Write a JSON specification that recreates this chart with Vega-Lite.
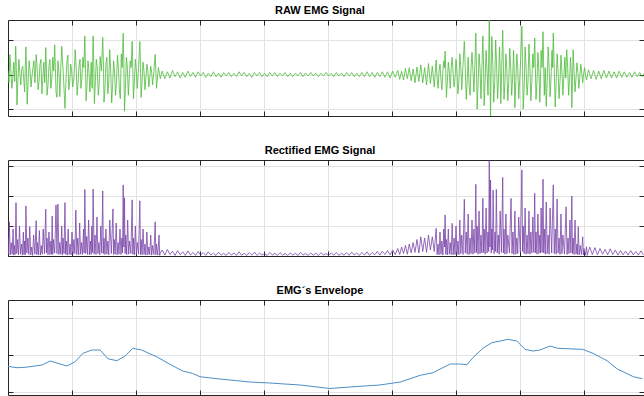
{
"$schema": "https://vega.github.io/schema/vega-lite/v6.json",
"background": "white",
"padding": {"left": 7, "top": 4, "right": 0, "bottom": 0},
"spacing": 44,
"bounds": "flush",
"datasets": {
"raw": [
{"t":0,"v":0.05},{"t":0.015,"v":-0.12},{"t":0.03,"v":0.29},{"t":0.045,"v":0.05},{"t":0.06,"v":-0.2},{"t":0.075,"v":-0.05},{"t":0.09,"v":0.18},{"t":0.105,"v":-0.1},{"t":0.12,"v":0.41},{"t":0.13,"v":0.1},{"t":0.14,"v":-0.44},{"t":0.155,"v":-0.08},{"t":0.17,"v":0.22},{"t":0.185,"v":0.02},{"t":0.2,"v":-0.15},{"t":0.215,"v":0.08},{"t":0.23,"v":0.12},{"t":0.245,"v":-0.05},{"t":0.26,"v":-0.25},{"t":0.27,"v":0.1},{"t":0.28,"v":0.4},{"t":0.29,"v":0.05},{"t":0.3,"v":-0.43},{"t":0.315,"v":-0.1},{"t":0.33,"v":0.2},{"t":0.345,"v":0.05},{"t":0.36,"v":-0.18},{"t":0.375,"v":-0.02},{"t":0.39,"v":0.1},{"t":0.405,"v":0.2},{"t":0.42,"v":-0.12},{"t":0.43,"v":0.05},{"t":0.44,"v":0.29},{"t":0.455,"v":0.1},{"t":0.47,"v":-0.22},{"t":0.485,"v":-0.1},{"t":0.5,"v":0.15},{"t":0.515,"v":0.22},{"t":0.53,"v":-0.28},{"t":0.545,"v":-0.05},{"t":0.56,"v":0.18},{"t":0.575,"v":-0.12},{"t":0.59,"v":0.39},{"t":0.6,"v":0.1},{"t":0.61,"v":-0.3},{"t":0.625,"v":-0.15},{"t":0.64,"v":0.12},{"t":0.655,"v":0.22},{"t":0.67,"v":-0.2},{"t":0.685,"v":-0.05},{"t":0.7,"v":0.25},{"t":0.715,"v":0.05},{"t":0.73,"v":0.43},{"t":0.74,"v":0.1},{"t":0.75,"v":-0.25},{"t":0.765,"v":-0.33},{"t":0.78,"v":0.2},{"t":0.795,"v":0.05},{"t":0.81,"v":-0.32},{"t":0.825,"v":0.1},{"t":0.84,"v":0.41},{"t":0.855,"v":0.15},{"t":0.87,"v":-0.1},{"t":0.88,"v":-0.3},{"t":0.89,"v":-0.49},{"t":0.905,"v":-0.1},{"t":0.92,"v":0.18},{"t":0.935,"v":0.28},{"t":0.95,"v":-0.22},{"t":0.965,"v":-0.1},{"t":0.98,"v":0.15},{"t":0.995,"v":0.05},{"t":1.01,"v":-0.18},{"t":1.03,"v":-0.05},{"t":1.05,"v":0.36},{"t":1.065,"v":0.1},{"t":1.08,"v":-0.3},{"t":1.095,"v":-0.12},{"t":1.11,"v":0.12},{"t":1.125,"v":0.22},{"t":1.14,"v":-0.2},{"t":1.155,"v":-0.05},{"t":1.17,"v":0.25},{"t":1.185,"v":0.1},{"t":1.2,"v":0.56},{"t":1.21,"v":0.15},{"t":1.22,"v":-0.38},{"t":1.235,"v":-0.15},{"t":1.25,"v":0.2},{"t":1.265,"v":0.05},{"t":1.28,"v":-0.25},{"t":1.29,"v":-0.1},{"t":1.3,"v":0.18},{"t":1.315,"v":-0.2},{"t":1.33,"v":0.56},{"t":1.34,"v":0.2},{"t":1.35,"v":-0.42},{"t":1.365,"v":-0.1},{"t":1.38,"v":0.22},{"t":1.395,"v":0.1},{"t":1.41,"v":-0.3},{"t":1.425,"v":-0.15},{"t":1.44,"v":0.26},{"t":1.46,"v":0.05},{"t":1.48,"v":0.54},{"t":1.49,"v":0.2},{"t":1.5,"v":-0.4},{"t":1.515,"v":-0.2},{"t":1.53,"v":0.15},{"t":1.545,"v":0.25},{"t":1.56,"v":-0.28},{"t":1.575,"v":-0.1},{"t":1.59,"v":0.36},{"t":1.605,"v":0.05},{"t":1.62,"v":-0.41},{"t":1.635,"v":-0.15},{"t":1.65,"v":0.2},{"t":1.665,"v":0.05},{"t":1.68,"v":-0.3},{"t":1.695,"v":-0.12},{"t":1.71,"v":0.28},{"t":1.725,"v":0.1},{"t":1.74,"v":-0.22},{"t":1.755,"v":-0.35},{"t":1.77,"v":0.3},{"t":1.785,"v":0.1},{"t":1.8,"v":0.6},{"t":1.81,"v":0.2},{"t":1.82,"v":-0.53},{"t":1.835,"v":-0.2},{"t":1.85,"v":0.25},{"t":1.865,"v":0.1},{"t":1.88,"v":-0.3},{"t":1.895,"v":-0.05},{"t":1.91,"v":0.2},{"t":1.925,"v":0.1},{"t":1.94,"v":0.48},{"t":1.95,"v":0.1},{"t":1.96,"v":-0.35},{"t":1.975,"v":-0.1},{"t":1.99,"v":0.22},{"t":2.005,"v":0.05},{"t":2.02,"v":-0.2},{"t":2.04,"v":0.1},{"t":2.06,"v":0.48},{"t":2.07,"v":0.1},{"t":2.08,"v":-0.33},{"t":2.095,"v":-0.1},{"t":2.11,"v":0.18},{"t":2.125,"v":0.05},{"t":2.14,"v":-0.22},{"t":2.155,"v":-0.05},{"t":2.17,"v":0.15},{"t":2.185,"v":0.05},{"t":2.2,"v":-0.18},{"t":2.215,"v":-0.05},{"t":2.23,"v":0.12},{"t":2.245,"v":0.03},{"t":2.26,"v":-0.15},{"t":2.28,"v":0.05},{"t":2.3,"v":0.29},{"t":2.31,"v":0.05},{"t":2.32,"v":-0.2},{"t":2.335,"v":-0.05},{"t":2.35,"v":0.1},{"t":2.365,"v":0.02},{"t":2.38,"v":-0.06},
{"t":2.41,"v":0.05},{"t":2.45,"v":-0.06},{"t":2.49,"v":0.04},{"t":2.53,"v":-0.05},{"t":2.57,"v":0.06},{"t":2.61,"v":-0.03},{"t":2.65,"v":0.04},{"t":2.69,"v":-0.05},{"t":2.73,"v":0.03},{"t":2.77,"v":-0.04},{"t":2.81,"v":0.05},{"t":2.85,"v":-0.03},{"t":2.89,"v":0.03},{"t":2.93,"v":-0.04},{"t":2.97,"v":0.04},{"t":3.01,"v":-0.02},{"t":3.05,"v":0.03},{"t":3.09,"v":-0.04},{"t":3.13,"v":0.02},{"t":3.17,"v":-0.03},{"t":3.21,"v":0.04},{"t":3.25,"v":-0.03},{"t":3.29,"v":0.02},{"t":3.33,"v":-0.04},{"t":3.37,"v":0.03},{"t":3.41,"v":-0.02},{"t":3.45,"v":0.03},{"t":3.49,"v":-0.03},{"t":3.53,"v":0.02},{"t":3.57,"v":-0.03},{"t":3.61,"v":0.04},{"t":3.65,"v":-0.02},{"t":3.69,"v":0.03},{"t":3.73,"v":-0.03},{"t":3.77,"v":0.02},{"t":3.81,"v":-0.04},{"t":3.85,"v":0.03},{"t":3.89,"v":-0.02},{"t":3.93,"v":0.03},{"t":3.97,"v":-0.03},{"t":4.01,"v":0.02},{"t":4.05,"v":-0.03},{"t":4.09,"v":0.03},{"t":4.13,"v":-0.02},{"t":4.17,"v":0.03},{"t":4.21,"v":-0.03},{"t":4.25,"v":0.02},{"t":4.29,"v":-0.02},{"t":4.33,"v":0.03},{"t":4.37,"v":-0.03},{"t":4.41,"v":0.02},{"t":4.45,"v":-0.03},{"t":4.49,"v":0.02},{"t":4.53,"v":-0.02},{"t":4.57,"v":0.03},{"t":4.61,"v":-0.03},{"t":4.65,"v":0.02},{"t":4.69,"v":-0.02},{"t":4.73,"v":0.03},{"t":4.77,"v":-0.02},{"t":4.81,"v":0.02},{"t":4.85,"v":-0.03},{"t":4.89,"v":0.02},{"t":4.93,"v":-0.02},{"t":4.97,"v":0.03},{"t":5.01,"v":-0.02},{"t":5.05,"v":0.02},{"t":5.09,"v":-0.03},{"t":5.13,"v":0.03},{"t":5.17,"v":-0.02},{"t":5.21,"v":0.02},{"t":5.25,"v":-0.03},{"t":5.29,"v":0.03},{"t":5.33,"v":-0.02},{"t":5.37,"v":0.03},{"t":5.41,"v":-0.03},{"t":5.45,"v":0.02},{"t":5.49,"v":-0.03},{"t":5.53,"v":0.03},{"t":5.57,"v":-0.03},{"t":5.61,"v":0.04},{"t":5.65,"v":-0.03},{"t":5.69,"v":0.03},{"t":5.73,"v":-0.04},{"t":5.77,"v":0.03},{"t":5.81,"v":-0.03},{"t":5.85,"v":0.04},{"t":5.89,"v":-0.04},{"t":5.93,"v":0.04},{"t":5.97,"v":-0.05},{"t":6.01,"v":0.05},{"t":6.05,"v":-0.04},
{"t":6.09,"v":0.06},{"t":6.12,"v":-0.07},{"t":6.15,"v":0.05},{"t":6.18,"v":-0.08},{"t":6.21,"v":0.09},{"t":6.24,"v":-0.06},{"t":6.27,"v":0.1},{"t":6.3,"v":-0.09},{"t":6.33,"v":0.08},{"t":6.36,"v":-0.12},{"t":6.39,"v":0.11},{"t":6.42,"v":-0.1},{"t":6.45,"v":0.14},{"t":6.48,"v":-0.12},{"t":6.51,"v":0.1},{"t":6.54,"v":-0.15},{"t":6.57,"v":0.16},{"t":6.6,"v":-0.13},{"t":6.63,"v":0.12},{"t":6.66,"v":-0.18},
{"t":6.69,"v":0.21},{"t":6.705,"v":-0.05},{"t":6.72,"v":-0.2},{"t":6.735,"v":0.05},{"t":6.75,"v":0.15},{"t":6.765,"v":-0.08},{"t":6.78,"v":-0.22},{"t":6.795,"v":0.05},{"t":6.81,"v":0.2},{"t":6.82,"v":0.1},{"t":6.83,"v":0.34},{"t":6.84,"v":0.05},{"t":6.85,"v":-0.33},{"t":6.865,"v":-0.1},{"t":6.88,"v":0.18},{"t":6.895,"v":0.05},{"t":6.91,"v":-0.2},{"t":6.925,"v":0.1},{"t":6.94,"v":0.25},{"t":6.955,"v":0.02},{"t":6.97,"v":-0.18},{"t":6.985,"v":-0.05},{"t":7,"v":0.22},{"t":7.015,"v":0.05},{"t":7.03,"v":-0.28},{"t":7.045,"v":-0.1},{"t":7.06,"v":0.3},{"t":7.075,"v":0.1},{"t":7.09,"v":-0.22},{"t":7.11,"v":0.15},{"t":7.13,"v":0.48},{"t":7.145,"v":0.1},{"t":7.16,"v":-0.36},{"t":7.175,"v":-0.1},{"t":7.19,"v":0.25},{"t":7.205,"v":-0.15},{"t":7.22,"v":-0.3},{"t":7.235,"v":0.1},{"t":7.25,"v":0.32},{"t":7.265,"v":0.05},{"t":7.28,"v":-0.25},{"t":7.295,"v":0.15},{"t":7.31,"v":0.6},{"t":7.32,"v":0.1},{"t":7.33,"v":-0.5},{"t":7.345,"v":-0.15},{"t":7.36,"v":0.3},{"t":7.375,"v":0.1},{"t":7.39,"v":-0.35},{"t":7.405,"v":0.1},{"t":7.42,"v":0.56},{"t":7.43,"v":0.15},{"t":7.44,"v":-0.45},{"t":7.455,"v":-0.1},{"t":7.47,"v":0.35},{"t":7.485,"v":0.05},{"t":7.5,"v":-0.3},{"t":7.51,"v":0.2},{"t":7.52,"v":0.79},{"t":7.53,"v":0.1},{"t":7.54,"v":-0.6},{"t":7.55,"v":0.1},{"t":7.56,"v":0.55},{"t":7.575,"v":0.15},{"t":7.59,"v":-0.4},{"t":7.605,"v":-0.1},{"t":7.62,"v":0.5},{"t":7.635,"v":0.1},{"t":7.65,"v":-0.35},{"t":7.665,"v":-0.05},{"t":7.68,"v":0.4},{"t":7.69,"v":0.1},{"t":7.7,"v":-0.42},{"t":7.715,"v":0.1},{"t":7.73,"v":0.64},{"t":7.74,"v":0.15},{"t":7.75,"v":-0.36},{"t":7.765,"v":-0.1},{"t":7.78,"v":0.3},{"t":7.795,"v":0.05},{"t":7.81,"v":-0.38},{"t":7.825,"v":-0.1},{"t":7.84,"v":0.38},{"t":7.855,"v":0.1},{"t":7.87,"v":-0.3},{"t":7.885,"v":-0.05},{"t":7.9,"v":0.35},{"t":7.91,"v":0.05},{"t":7.92,"v":-0.48},{"t":7.935,"v":-0.1},{"t":7.95,"v":0.3},{"t":7.965,"v":0.1},{"t":7.98,"v":-0.35},{"t":8.005,"v":0.1},{"t":8.03,"v":0.7},{"t":8.04,"v":0.1},{"t":8.05,"v":-0.5},{"t":8.065,"v":-0.2},{"t":8.08,"v":0.4},{"t":8.095,"v":0.1},{"t":8.11,"v":-0.3},{"t":8.125,"v":-0.1},{"t":8.14,"v":0.44},{"t":8.155,"v":0.1},{"t":8.17,"v":-0.38},{"t":8.185,"v":-0.1},{"t":8.2,"v":0.3},{"t":8.215,"v":0.1},{"t":8.23,"v":0.53},{"t":8.24,"v":0.1},{"t":8.25,"v":-0.36},{"t":8.265,"v":-0.1},{"t":8.28,"v":0.32},{"t":8.295,"v":0.05},{"t":8.31,"v":-0.4},{"t":8.32,"v":-0.1},{"t":8.33,"v":0.35},{"t":8.345,"v":0.1},{"t":8.36,"v":0.62},{"t":8.37,"v":0.1},{"t":8.38,"v":-0.3},{"t":8.395,"v":0.1},{"t":8.41,"v":-0.46},{"t":8.425,"v":-0.1},{"t":8.44,"v":0.4},{"t":8.455,"v":0.1},{"t":8.47,"v":-0.32},{"t":8.485,"v":-0.05},{"t":8.5,"v":0.35},{"t":8.51,"v":0.1},{"t":8.52,"v":0.6},{"t":8.535,"v":0.1},{"t":8.55,"v":-0.47},{"t":8.565,"v":-0.1},{"t":8.58,"v":0.3},{"t":8.595,"v":0.05},{"t":8.61,"v":-0.35},{"t":8.625,"v":-0.1},{"t":8.64,"v":0.28},{"t":8.655,"v":0.05},{"t":8.67,"v":-0.3},{"t":8.685,"v":-0.05},{"t":8.7,"v":0.25},{"t":8.715,"v":-0.05},{"t":8.73,"v":0.36},{"t":8.745,"v":0.1},{"t":8.76,"v":-0.3},{"t":8.775,"v":-0.05},{"t":8.79,"v":0.25},{"t":8.8,"v":0.05},{"t":8.81,"v":-0.48},{"t":8.82,"v":-0.1},{"t":8.83,"v":0.36},{"t":8.845,"v":0.05},{"t":8.86,"v":-0.25},{"t":8.875,"v":-0.05},{"t":8.89,"v":0.17},{"t":8.905,"v":0.03},{"t":8.92,"v":-0.2},{"t":8.935,"v":-0.03},{"t":8.95,"v":0.15},{"t":8.965,"v":0.02},{"t":8.98,"v":-0.12},{"t":8.995,"v":0.02},{"t":9.01,"v":0.1},{"t":9.025,"v":-0.02},{"t":9.04,"v":-0.08},
{"t":9.07,"v":0.07},{"t":9.11,"v":-0.06},{"t":9.15,"v":0.06},{"t":9.19,"v":-0.07},{"t":9.23,"v":0.05},{"t":9.27,"v":-0.06},{"t":9.31,"v":0.06},{"t":9.35,"v":-0.05},{"t":9.39,"v":0.05},{"t":9.43,"v":-0.05},{"t":9.47,"v":0.04},{"t":9.51,"v":-0.05},{"t":9.55,"v":0.05},{"t":9.59,"v":-0.04},{"t":9.63,"v":0.04},{"t":9.67,"v":-0.04},{"t":9.71,"v":0.03},{"t":9.75,"v":-0.04},{"t":9.79,"v":0.04},{"t":9.83,"v":-0.03},{"t":9.87,"v":0.03},{"t":9.91,"v":-0.03},{"t":9.95,"v":0.03}
],
"rect": [
{"t":0,"v":0.6},{"t":0.01,"v":0.05},{"t":0.02,"v":1.14},{"t":0.035,"v":0.04},{"t":0.05,"v":0.45},{"t":0.065,"v":0.06},{"t":0.08,"v":0.9},{"t":0.09,"v":0.03},{"t":0.1,"v":0.35},{"t":0.112,"v":0.05},{"t":0.125,"v":1.78},{"t":0.137,"v":0.08},{"t":0.15,"v":0.55},{"t":0.165,"v":0.04},{"t":0.18,"v":1.0},{"t":0.195,"v":0.06},{"t":0.21,"v":0.4},{"t":0.225,"v":0.03},{"t":0.24,"v":0.8},{"t":0.25,"v":0.05},{"t":0.26,"v":0.5},{"t":0.27,"v":0.04},{"t":0.28,"v":1.67},{"t":0.295,"v":0.1},{"t":0.31,"v":0.6},{"t":0.325,"v":0.05},{"t":0.34,"v":0.98},{"t":0.355,"v":0.04},{"t":0.37,"v":0.3},{"t":0.385,"v":0.02},{"t":0.4,"v":0.7},{"t":0.42,"v":0.06},{"t":0.44,"v":1.18},{"t":0.45,"v":0.05},{"t":0.46,"v":0.45},{"t":0.475,"v":0.04},{"t":0.49,"v":0.85},{"t":0.505,"v":0.03},{"t":0.52,"v":0.35},{"t":0.535,"v":0.06},{"t":0.55,"v":0.9},{"t":0.57,"v":0.08},{"t":0.59,"v":1.56},{"t":0.6,"v":0.1},{"t":0.61,"v":0.6},{"t":0.625,"v":0.04},{"t":0.64,"v":0.8},{"t":0.655,"v":0.05},{"t":0.67,"v":0.5},{"t":0.68,"v":0.06},{"t":0.69,"v":1.33},{"t":0.7,"v":0.05},{"t":0.71,"v":0.55},{"t":0.73,"v":0.1},{"t":0.75,"v":1.7},{"t":0.765,"v":0.08},{"t":0.78,"v":1.73},{"t":0.795,"v":0.05},{"t":0.81,"v":0.45},{"t":0.825,"v":0.06},{"t":0.84,"v":1.0},{"t":0.85,"v":0.04},{"t":0.86,"v":0.6},{"t":0.875,"v":0.08},{"t":0.89,"v":1.78},{"t":0.9,"v":0.06},{"t":0.91,"v":0.5},{"t":0.925,"v":0.03},{"t":0.94,"v":0.9},{"t":0.955,"v":0.05},{"t":0.97,"v":0.4},{"t":0.985,"v":0.04},{"t":1.0,"v":0.8},{"t":1.015,"v":0.06},{"t":1.03,"v":0.55},{"t":1.045,"v":0.08},{"t":1.06,"v":1.53},{"t":1.075,"v":0.05},{"t":1.09,"v":0.6},{"t":1.105,"v":0.04},{"t":1.12,"v":1.1},{"t":1.135,"v":0.06},{"t":1.15,"v":0.45},{"t":1.165,"v":0.05},{"t":1.18,"v":0.9},{"t":1.19,"v":0.1},{"t":1.2,"v":2.22},{"t":1.215,"v":0.08},{"t":1.23,"v":0.65},{"t":1.245,"v":0.05},{"t":1.26,"v":1.2},{"t":1.275,"v":0.04},{"t":1.29,"v":0.5},{"t":1.3,"v":0.06},{"t":1.31,"v":1.0},{"t":1.32,"v":0.12},{"t":1.33,"v":2.23},{"t":1.345,"v":0.06},{"t":1.36,"v":0.7},{"t":1.375,"v":0.05},{"t":1.39,"v":1.3},{"t":1.405,"v":0.08},{"t":1.42,"v":0.45},{"t":1.435,"v":0.04},{"t":1.45,"v":1.0},{"t":1.465,"v":0.1},{"t":1.48,"v":2.17},{"t":1.49,"v":0.08},{"t":1.5,"v":0.6},{"t":1.515,"v":0.05},{"t":1.53,"v":0.9},{"t":1.545,"v":0.06},{"t":1.56,"v":0.5},{"t":1.575,"v":0.04},{"t":1.59,"v":1.2},{"t":1.615,"v":0.08},{"t":1.64,"v":1.57},{"t":1.65,"v":0.05},{"t":1.66,"v":0.55},{"t":1.675,"v":0.06},{"t":1.69,"v":1.1},{"t":1.705,"v":0.04},{"t":1.72,"v":0.45},{"t":1.735,"v":0.06},{"t":1.75,"v":0.9},{"t":1.765,"v":0.05},{"t":1.78,"v":0.6},{"t":1.79,"v":0.1},{"t":1.8,"v":2.37},{"t":1.81,"v":0.3},{"t":1.82,"v":1.94},{"t":1.83,"v":0.08},{"t":1.84,"v":0.7},{"t":1.855,"v":0.05},{"t":1.87,"v":1.2},{"t":1.885,"v":0.06},{"t":1.9,"v":0.5},{"t":1.92,"v":0.08},{"t":1.94,"v":1.87},{"t":1.95,"v":0.06},{"t":1.96,"v":0.6},{"t":1.975,"v":0.04},{"t":1.99,"v":1.0},{"t":2.005,"v":0.05},{"t":2.02,"v":0.45},{"t":2.04,"v":0.06},{"t":2.06,"v":1.84},{"t":2.07,"v":0.05},{"t":2.08,"v":0.55},{"t":2.095,"v":0.04},{"t":2.11,"v":0.9},{"t":2.125,"v":0.05},{"t":2.14,"v":0.4},{"t":2.155,"v":0.03},{"t":2.17,"v":0.8},{"t":2.185,"v":0.04},{"t":2.2,"v":0.3},{"t":2.215,"v":0.05},{"t":2.23,"v":0.7},{"t":2.245,"v":0.03},{"t":2.26,"v":0.35},{"t":2.28,"v":0.05},{"t":2.3,"v":1.14},{"t":2.31,"v":0.04},{"t":2.32,"v":0.4},{"t":2.34,"v":0.03},{"t":2.36,"v":0.7},{"t":2.37,"v":0.02},{"t":2.38,"v":0.1},
{"t":2.41,"v":0.2},{"t":2.45,"v":0.03},{"t":2.49,"v":0.22},{"t":2.53,"v":0.05},{"t":2.57,"v":0.16},{"t":2.61,"v":0.02},{"t":2.65,"v":0.18},{"t":2.69,"v":0.04},{"t":2.73,"v":0.14},{"t":2.77,"v":0.02},{"t":2.81,"v":0.17},{"t":2.85,"v":0.03},{"t":2.89,"v":0.12},{"t":2.93,"v":0.02},{"t":2.97,"v":0.15},{"t":3.01,"v":0.03},{"t":3.05,"v":0.11},{"t":3.09,"v":0.02},{"t":3.13,"v":0.14},{"t":3.17,"v":0.03},{"t":3.21,"v":0.1},{"t":3.25,"v":0.02},{"t":3.29,"v":0.13},{"t":3.33,"v":0.03},{"t":3.37,"v":0.09},{"t":3.41,"v":0.02},{"t":3.45,"v":0.12},{"t":3.49,"v":0.03},{"t":3.53,"v":0.1},{"t":3.57,"v":0.02},{"t":3.61,"v":0.14},{"t":3.65,"v":0.03},{"t":3.69,"v":0.09},{"t":3.73,"v":0.02},{"t":3.77,"v":0.11},{"t":3.81,"v":0.03},{"t":3.85,"v":0.13},{"t":3.89,"v":0.02},{"t":3.93,"v":0.1},{"t":3.97,"v":0.03},{"t":4.01,"v":0.08},{"t":4.05,"v":0.02},{"t":4.09,"v":0.12},{"t":4.13,"v":0.03},{"t":4.17,"v":0.09},{"t":4.21,"v":0.02},{"t":4.25,"v":0.11},{"t":4.29,"v":0.03},{"t":4.33,"v":0.08},{"t":4.37,"v":0.02},{"t":4.41,"v":0.1},{"t":4.45,"v":0.03},{"t":4.49,"v":0.09},{"t":4.53,"v":0.02},{"t":4.57,"v":0.12},{"t":4.61,"v":0.03},{"t":4.65,"v":0.08},{"t":4.69,"v":0.02},{"t":4.73,"v":0.1},{"t":4.77,"v":0.03},{"t":4.81,"v":0.09},{"t":4.85,"v":0.02},{"t":4.89,"v":0.11},{"t":4.93,"v":0.03},{"t":4.97,"v":0.08},{"t":5.01,"v":0.02},{"t":5.05,"v":0.1},{"t":5.09,"v":0.03},{"t":5.13,"v":0.12},{"t":5.17,"v":0.02},{"t":5.21,"v":0.09},{"t":5.25,"v":0.03},{"t":5.29,"v":0.11},{"t":5.33,"v":0.02},{"t":5.37,"v":0.13},{"t":5.41,"v":0.03},{"t":5.45,"v":0.1},{"t":5.49,"v":0.02},{"t":5.53,"v":0.12},{"t":5.57,"v":0.03},{"t":5.61,"v":0.14},{"t":5.65,"v":0.02},{"t":5.69,"v":0.12},{"t":5.73,"v":0.04},{"t":5.77,"v":0.15},{"t":5.81,"v":0.03},{"t":5.85,"v":0.16},{"t":5.89,"v":0.05},{"t":5.93,"v":0.18},{"t":5.97,"v":0.04},{"t":6.01,"v":0.2},{"t":6.05,"v":0.05},
{"t":6.09,"v":0.25},{"t":6.12,"v":0.05},{"t":6.15,"v":0.3},{"t":6.18,"v":0.08},{"t":6.21,"v":0.35},{"t":6.24,"v":0.06},{"t":6.27,"v":0.4},{"t":6.3,"v":0.1},{"t":6.33,"v":0.45},{"t":6.36,"v":0.12},{"t":6.39,"v":0.55},{"t":6.42,"v":0.1},{"t":6.45,"v":0.64},{"t":6.48,"v":0.15},{"t":6.51,"v":0.6},{"t":6.54,"v":0.12},{"t":6.57,"v":0.7},{"t":6.6,"v":0.2},{"t":6.63,"v":0.64},{"t":6.66,"v":0.15},
{"t":6.69,"v":0.92},{"t":6.705,"v":0.05},{"t":6.72,"v":0.4},{"t":6.735,"v":0.04},{"t":6.75,"v":0.8},{"t":6.765,"v":0.06},{"t":6.78,"v":0.5},{"t":6.795,"v":0.03},{"t":6.81,"v":0.9},{"t":6.82,"v":0.3},{"t":6.83,"v":1.37},{"t":6.84,"v":0.05},{"t":6.85,"v":0.55},{"t":6.865,"v":0.04},{"t":6.88,"v":0.9},{"t":6.895,"v":0.06},{"t":6.91,"v":0.45},{"t":6.925,"v":0.05},{"t":6.94,"v":1.09},{"t":6.955,"v":0.04},{"t":6.97,"v":0.6},{"t":6.985,"v":0.05},{"t":7.0,"v":1.0},{"t":7.015,"v":0.06},{"t":7.03,"v":0.5},{"t":7.045,"v":0.04},{"t":7.06,"v":1.2},{"t":7.075,"v":0.08},{"t":7.09,"v":0.7},{"t":7.11,"v":0.05},{"t":7.13,"v":1.89},{"t":7.145,"v":0.1},{"t":7.16,"v":0.8},{"t":7.175,"v":0.06},{"t":7.19,"v":1.4},{"t":7.205,"v":0.05},{"t":7.22,"v":0.6},{"t":7.235,"v":0.08},{"t":7.25,"v":1.2},{"t":7.265,"v":0.06},{"t":7.28,"v":0.9},{"t":7.295,"v":0.1},{"t":7.31,"v":2.39},{"t":7.32,"v":0.12},{"t":7.33,"v":1.0},{"t":7.345,"v":0.06},{"t":7.36,"v":1.5},{"t":7.375,"v":0.08},{"t":7.39,"v":0.7},{"t":7.405,"v":0.1},{"t":7.42,"v":1.92},{"t":7.43,"v":0.12},{"t":7.44,"v":0.9},{"t":7.455,"v":0.06},{"t":7.47,"v":1.6},{"t":7.485,"v":0.1},{"t":7.5,"v":0.8},{"t":7.51,"v":0.15},{"t":7.52,"v":3.18},{"t":7.53,"v":0.3},{"t":7.54,"v":2.53},{"t":7.55,"v":0.1},{"t":7.56,"v":0.9},{"t":7.57,"v":0.2},{"t":7.58,"v":2.2},{"t":7.595,"v":0.08},{"t":7.61,"v":0.8},{"t":7.62,"v":0.15},{"t":7.63,"v":2.22},{"t":7.645,"v":0.1},{"t":7.66,"v":0.7},{"t":7.675,"v":0.06},{"t":7.69,"v":1.5},{"t":7.71,"v":0.12},{"t":7.73,"v":2.62},{"t":7.74,"v":0.1},{"t":7.75,"v":0.9},{"t":7.765,"v":0.06},{"t":7.78,"v":1.4},{"t":7.795,"v":0.08},{"t":7.81,"v":0.7},{"t":7.835,"v":0.1},{"t":7.86,"v":1.92},{"t":7.875,"v":0.08},{"t":7.89,"v":0.8},{"t":7.905,"v":0.05},{"t":7.92,"v":1.5},{"t":7.935,"v":0.06},{"t":7.95,"v":0.6},{"t":7.965,"v":0.08},{"t":7.98,"v":1.3},{"t":8.005,"v":0.12},{"t":8.03,"v":2.87},{"t":8.04,"v":0.15},{"t":8.05,"v":1.0},{"t":8.065,"v":0.08},{"t":8.08,"v":1.6},{"t":8.095,"v":0.06},{"t":8.11,"v":0.7},{"t":8.125,"v":0.08},{"t":8.14,"v":1.5},{"t":8.155,"v":0.06},{"t":8.17,"v":0.8},{"t":8.185,"v":0.1},{"t":8.2,"v":1.3},{"t":8.215,"v":0.12},{"t":8.23,"v":2.09},{"t":8.24,"v":0.1},{"t":8.25,"v":0.8},{"t":8.265,"v":0.06},{"t":8.28,"v":1.4},{"t":8.295,"v":0.08},{"t":8.31,"v":0.7},{"t":8.32,"v":0.1},{"t":8.33,"v":1.6},{"t":8.345,"v":0.12},{"t":8.36,"v":2.56},{"t":8.37,"v":0.1},{"t":8.38,"v":0.9},{"t":8.395,"v":0.06},{"t":8.41,"v":1.8},{"t":8.425,"v":0.08},{"t":8.44,"v":0.7},{"t":8.455,"v":0.06},{"t":8.47,"v":1.6},{"t":8.495,"v":0.1},{"t":8.52,"v":2.37},{"t":8.535,"v":0.08},{"t":8.55,"v":0.9},{"t":8.565,"v":0.06},{"t":8.58,"v":1.9},{"t":8.595,"v":0.1},{"t":8.61,"v":0.6},{"t":8.625,"v":0.05},{"t":8.64,"v":1.4},{"t":8.655,"v":0.08},{"t":8.67,"v":0.7},{"t":8.695,"v":0.06},{"t":8.72,"v":1.64},{"t":8.735,"v":0.05},{"t":8.75,"v":0.6},{"t":8.765,"v":0.08},{"t":8.78,"v":1.2},{"t":8.795,"v":0.1},{"t":8.81,"v":2.0},{"t":8.82,"v":0.08},{"t":8.83,"v":0.6},{"t":8.845,"v":0.05},{"t":8.86,"v":1.2},{"t":8.875,"v":0.06},{"t":8.89,"v":0.4},{"t":8.9,"v":0.05},{"t":8.91,"v":0.98},{"t":8.925,"v":0.04},{"t":8.94,"v":0.35},{"t":8.96,"v":0.05},{"t":8.98,"v":0.64},{"t":8.99,"v":0.04},{"t":9.0,"v":0.25},{"t":9.02,"v":0.03},{"t":9.04,"v":0.31},{"t":9.05,"v":0.02},{"t":9.06,"v":0.1},
{"t":9.09,"v":0.3},{"t":9.13,"v":0.05},{"t":9.17,"v":0.28},{"t":9.21,"v":0.04},{"t":9.25,"v":0.25},{"t":9.29,"v":0.06},{"t":9.33,"v":0.22},{"t":9.37,"v":0.04},{"t":9.41,"v":0.24},{"t":9.45,"v":0.05},{"t":9.49,"v":0.2},{"t":9.53,"v":0.03},{"t":9.57,"v":0.18},{"t":9.61,"v":0.04},{"t":9.65,"v":0.16},{"t":9.69,"v":0.03},{"t":9.73,"v":0.18},{"t":9.77,"v":0.04},{"t":9.81,"v":0.15},{"t":9.85,"v":0.03},{"t":9.89,"v":0.17},{"t":9.93,"v":0.04}
],
"env": [
{"t":0,"v":0.69},{"t":0.14,"v":0.654},{"t":0.27,"v":0.665},{"t":0.53,"v":0.727},{"t":0.66,"v":0.837},{"t":0.92,"v":0.7},{"t":1.05,"v":0.817},{"t":1.17,"v":1.046},{"t":1.31,"v":1.136},{"t":1.44,"v":1.136},{"t":1.56,"v":0.9},{"t":1.7,"v":0.845},{"t":1.83,"v":0.973},{"t":1.95,"v":1.183},{"t":2.09,"v":1.136},{"t":2.34,"v":0.937},{"t":2.53,"v":0.747},{"t":2.73,"v":0.564},{"t":2.88,"v":0.501},{"t":3.0,"v":0.409},{"t":3.13,"v":0.381},{"t":3.31,"v":0.346},{"t":3.78,"v":0.264},{"t":4.09,"v":0.237},{"t":4.56,"v":0.183},{"t":5.03,"v":0.087},{"t":5.34,"v":0.128},{"t":5.81,"v":0.183},{"t":6.13,"v":0.264},{"t":6.44,"v":0.447},{"t":6.64,"v":0.518},{"t":6.91,"v":0.755},{"t":7.06,"v":0.755},{"t":7.17,"v":0.736},{"t":7.27,"v":0.937},{"t":7.42,"v":1.183},{"t":7.56,"v":1.335},{"t":7.69,"v":1.381},{"t":7.81,"v":1.428},{"t":7.95,"v":1.381},{"t":8.08,"v":1.155},{"t":8.2,"v":1.109},{"t":8.31,"v":1.136},{"t":8.47,"v":1.245},{"t":8.59,"v":1.183},{"t":8.98,"v":1.155},{"t":9.14,"v":1.046},{"t":9.36,"v":0.845},{"t":9.52,"v":0.619},{"t":9.61,"v":0.545},{"t":9.77,"v":0.409},{"t":9.91,"v":0.354}
],
"anchor": [{"t":1,"v":0}]
},
"vconcat": [
{
"width": 636, "height": 96,
"title": {"text": "RAW EMG Signal"},
"layer": [
{"data": {"name": "raw"}, "mark": {"type": "line", "color": "#4cbb3a", "strokeWidth": 0.8, "clip": true},
 "encoding": {
  "x": {"field": "t", "type": "quantitative", "scale": {"domain": [0, 9.9375], "nice": false, "zero": false}, "axis": {"orient": "bottom", "values": [1,2,3,4,5,6,7,8,9], "grid": true}},
  "y": {"field": "v", "type": "quantitative", "scale": {"domain": [-0.6, 0.79], "nice": false, "zero": false}, "axis": {"orient": "left", "values": [-0.5, 0, 0.5], "grid": true}}
 }},
{"data": {"name": "anchor"}, "mark": {"type": "point", "opacity": 0},
 "encoding": {
  "x": {"field": "t", "type": "quantitative", "scale": {"domain": [0, 9.9375], "nice": false, "zero": false}, "axis": {"orient": "top", "values": [1,2,3,4,5,6,7,8,9], "grid": false}},
  "y": {"field": "v", "type": "quantitative", "scale": {"domain": [-0.6, 0.79], "nice": false, "zero": false}, "axis": {"orient": "right", "values": [-0.5, 0, 0.5], "grid": false, "domain": false}}
 }}
],
"resolve": {"axis": {"x": "independent", "y": "independent"}}
},
{
"width": 636, "height": 96,
"title": {"text": "Rectified EMG Signal"},
"layer": [
{"data": {"name": "rect"}, "mark": {"type": "line", "color": "#7a45a8", "strokeWidth": 0.8, "clip": true},
 "encoding": {
  "x": {"field": "t", "type": "quantitative", "scale": {"domain": [0, 9.9375], "nice": false, "zero": false}, "axis": {"orient": "bottom", "values": [1,2,3,4,5,6,7,8,9], "grid": true}},
  "y": {"field": "v", "type": "quantitative", "scale": {"domain": [0, 3.2], "nice": false, "zero": false}, "axis": {"orient": "left", "values": [0, 1, 2, 3], "grid": true}}
 }},
{"data": {"name": "anchor"}, "mark": {"type": "point", "opacity": 0},
 "encoding": {
  "x": {"field": "t", "type": "quantitative", "scale": {"domain": [0, 9.9375], "nice": false, "zero": false}, "axis": {"orient": "top", "values": [1,2,3,4,5,6,7,8,9], "grid": false}},
  "y": {"field": "v", "type": "quantitative", "scale": {"domain": [0, 3.2], "nice": false, "zero": false}, "axis": {"orient": "right", "values": [0, 1, 2, 3], "grid": false, "domain": false}}
 }}
],
"resolve": {"axis": {"x": "independent", "y": "independent"}}
},
{
"width": 636, "height": 95,
"title": {"text": "EMG´s Envelope"},
"layer": [
{"data": {"name": "env"}, "mark": {"type": "line", "color": "#4a8fc8", "strokeWidth": 1, "clip": true},
 "encoding": {
  "x": {"field": "t", "type": "quantitative", "scale": {"domain": [0, 9.9375], "nice": false, "zero": false}, "axis": {"orient": "bottom", "values": [1,2,3,4,5,6,7,8,9], "grid": true}},
  "y": {"field": "v", "type": "quantitative", "scale": {"domain": [-0.09, 2.5], "nice": false, "zero": false}, "axis": {"orient": "left", "values": [0, 1, 2], "grid": true}}
 }},
{"data": {"name": "anchor"}, "mark": {"type": "point", "opacity": 0},
 "encoding": {
  "x": {"field": "t", "type": "quantitative", "scale": {"domain": [0, 9.9375], "nice": false, "zero": false}, "axis": {"orient": "top", "values": [1,2,3,4,5,6,7,8,9], "grid": false}},
  "y": {"field": "v", "type": "quantitative", "scale": {"domain": [-0.09, 2.5], "nice": false, "zero": false}, "axis": {"orient": "right", "values": [0, 1, 2], "grid": false, "domain": false}}
 }}
],
"resolve": {"axis": {"x": "independent", "y": "independent"}}
}
],
"config": {
"view": {"stroke": null},
"axis": {"labels": false, "title": null, "domainColor": "#262626", "tickColor": "#262626", "tickSize": -5, "gridColor": "#e3e3e3", "domainWidth": 1, "tickWidth": 1},
"title": {"font": "Liberation Sans", "fontSize": 11, "fontWeight": "bold", "color": "#000000", "anchor": "middle", "dx": -6, "offset": 4}
}
}
